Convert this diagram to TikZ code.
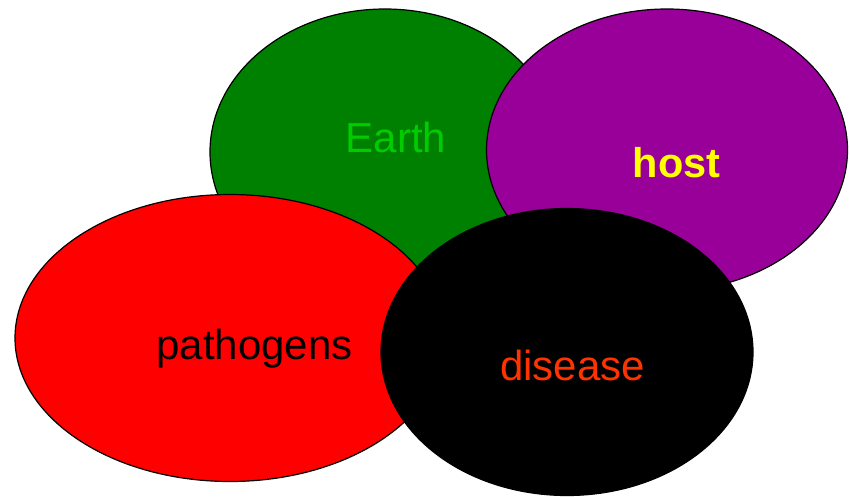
\documentclass[tikz,border=0pt]{standalone}
\usepackage{fontspec}
\setmainfont{Liberation Sans}
\usetikzlibrary{shapes.geometric}
\definecolor{earthfill}{HTML}{008000}
\definecolor{earthtext}{HTML}{00CC00}
\definecolor{hostfill}{HTML}{990099}
\definecolor{hosttext}{HTML}{FFFF00}
\definecolor{diseasetext}{HTML}{FF3300}
\begin{document}
\begin{tikzpicture}[x=1pt,y=-1pt,
  blob/.style={ellipse,draw=black,line width=1.2pt,inner sep=0pt},
  tag/.style={anchor=base,inner sep=0pt,font=\fontsize{42}{42}\selectfont}]
\useasboundingbox (0,0) rectangle (850,497);
% four overlapping ellipses, back to front
\node[blob,fill=earthfill,minimum width=350pt,minimum height=286pt] (earth) at (385,152) {};
\node[blob,fill=hostfill,minimum width=361pt,minimum height=282pt] (host) at (667,150) {};
\node[blob,fill=red,minimum width=430pt,minimum height=287pt] (pathogens) at (230,338) {};
\node[blob,fill=black,minimum width=372pt,minimum height=287pt] (disease) at (567,352) {};
% labels
\node[tag,text=earthtext] (earthlabel) at (396,153) {Earth};
\node[tag,text=hosttext,font=\fontsize{41.5}{41.5}\selectfont\bfseries] (hostlabel) at (676.5,178) {host};
\node[tag,text=black] (pathogenslabel) at (254.5,359) {pathogens};
\node[tag,text=diseasetext] (diseaselabel) at (572.5,380) {disease};
\end{tikzpicture}
\end{document}
